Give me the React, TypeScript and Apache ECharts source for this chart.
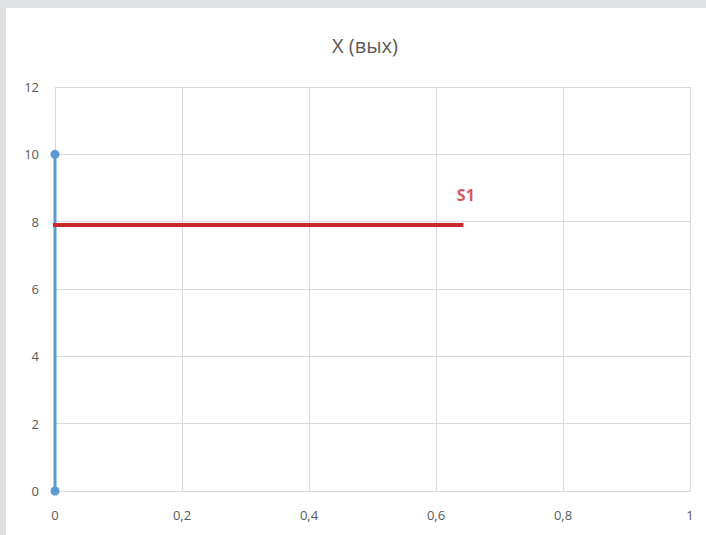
import React, { useEffect, useRef } from "react";
import * as echarts from "echarts";

const title = "X (вых)";
const blueX = [0, 0];
const blueY = [0, 10];
const redX = [0, 0.64];
const redY = [7.9, 7.9];
const labelPoint = [0.647, 8.8];
const labelText = "S1";

export default function App() {
  const ref = useRef<HTMLDivElement>(null);
  useEffect(() => {
    const chart = echarts.init(ref.current!, null, { renderer: "svg" });
    const font = "'Open Sans', 'Noto Sans', sans-serif";
    chart.setOption({
      animation: false,
      backgroundColor: "#dfe2e5",
      graphic: [
        {
          type: "rect",
          left: 6,
          top: 8,
          shape: { width: 700, height: 527 },
          style: { fill: "#ffffff" },
          z: -10,
        },
      ],
      title: {
        text: title,
        left: 360,
        top: 30,
        textAlign: "center",
        textStyle: { color: "#595959", fontSize: 20, fontWeight: "normal", fontFamily: font },
      },
      grid: { left: 55, right: 16, top: 87, bottom: 44, containLabel: false },
      xAxis: {
        type: "value",
        min: 0,
        max: 1,
        interval: 0.2,
        axisLine: { show: true, lineStyle: { color: "#d9d9d9" } },
        axisTick: { show: false },
        splitLine: { show: true, lineStyle: { color: "#d9d9d9" } },
        axisLabel: {
          color: "#595959",
          fontSize: 13,
          fontFamily: font,
          margin: 17,
          formatter: (v: number) => String(Math.round(v * 10) / 10).replace(".", ","),
        },
      },
      yAxis: {
        type: "value",
        min: 0,
        max: 12,
        interval: 2,
        axisLine: { show: false },
        axisTick: { show: false },
        splitLine: { show: true, lineStyle: { color: "#d9d9d9" } },
        axisLabel: { color: "#595959", fontSize: 13, fontFamily: font, margin: 16 },
      },
      series: [
        {
          type: "line",
          data: blueX.map((x, i) => [x, blueY[i]]),
          symbol: "circle",
          symbolSize: 9,
          showSymbol: true,
          lineStyle: { color: "#5b9bd5", width: 3 },
          itemStyle: { color: "#5b9bd5" },
          z: 3,
        },
        {
          type: "line",
          data: redX.map((x, i) => [x, redY[i]]),
          showSymbol: false,
          symbol: "none",
          lineStyle: { color: "#c9282d", width: 4, cap: "square" },
          z: 4,
        },
        {
          type: "scatter",
          data: [labelPoint],
          symbolSize: 0,
          label: {
            show: true,
            position: "inside",
            formatter: labelText,
            color: "#c9282d",
            fontWeight: "bold",
            fontSize: 16,
            fontFamily: font,
          },
        },
      ],
    });
    return () => chart.dispose();
  }, []);
  return (
    <div
      ref={ref}
      style={{ position: "absolute", left: 0, top: 0, width: 706, height: 535 }}
    />
  );
}
